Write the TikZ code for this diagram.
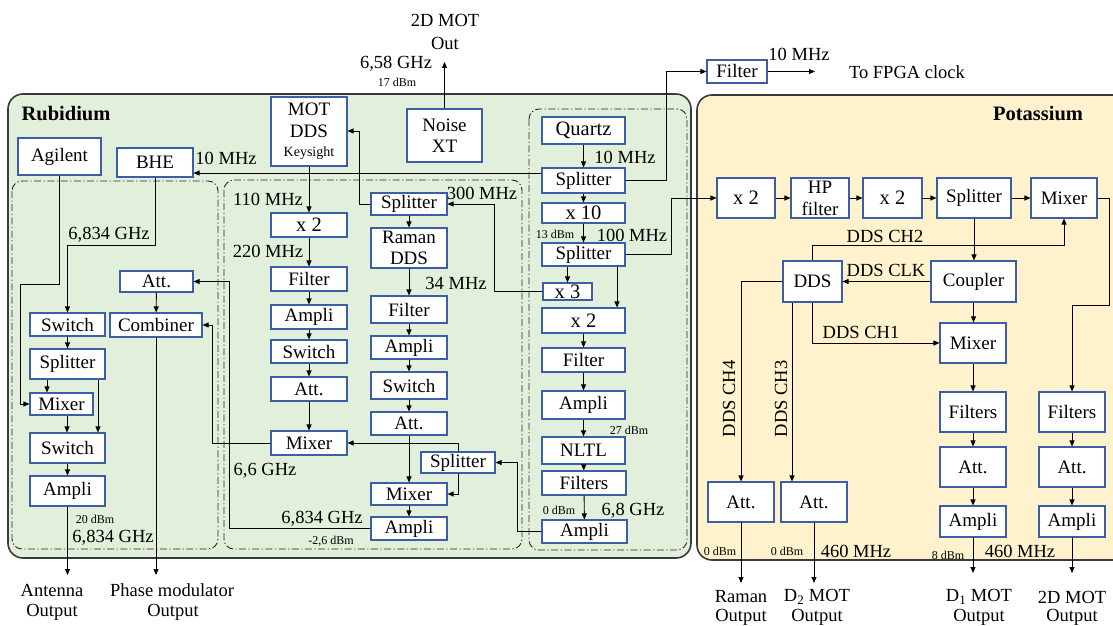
\documentclass[tikz,border=0pt]{standalone}
\usepackage{fontspec}
\setmainfont{Liberation Serif}
\usetikzlibrary{arrows.meta}
\definecolor{rbfill}{HTML}{E2EFDA}
\definecolor{kfill}{HTML}{FFF2CC}
\definecolor{boxblue}{HTML}{3B5EA6}
\definecolor{panelc}{HTML}{3A3A3A}
\newcommand\bx[6][]{\node[box,#1,minimum width={#4pt-#2pt},minimum height={#5pt-#3pt}] (#6) at ({(#2+#4)/2},{(#3+#5)/2})}
\begin{document}
\begin{tikzpicture}[x=1pt,y=-1pt,
 box/.style={draw=boxblue,line width=1.1pt,fill=white,inner sep=0pt,align=center,font=\fontsize{19}{21}\selectfont},
 big/.style={font=\fontsize{20.5}{22}\selectfont},
 arr/.style={draw,line width=0.9pt,-{Triangle[length=6pt,width=5pt]}},
 lbl/.style={inner sep=0pt,font=\fontsize{18.5}{21}\selectfont,align=center},
 sml/.style={inner sep=0pt,font=\fontsize{12}{13}\selectfont},
 ttl/.style={inner sep=0pt,font=\fontsize{20.5}{22}\selectfont\bfseries},
 region/.style={draw=black!85,line width=0.9pt,rounded corners=10pt,dash pattern=on 7pt off 2.5pt on 1.2pt off 2.5pt},
 panel/.style={draw=panelc,line width=1.6pt,rounded corners=15pt}]
\useasboundingbox (0,0) rectangle (1113,626);
% panels
\path[panel,fill=rbfill] (8,94) rectangle (691,558);
\path[panel,fill=kfill] (697,95) rectangle (1130,560);
\path[region] (12,181) rectangle (218,549);
\path[region] (224,180) rectangle (522,549);
\path[region] (529,109) rectangle (687,550);
\node[ttl] (rbt) at (66,114) {Rubidium};
\node[ttl] (kt) at (1038,114) {Potassium};
% left region
\bx{18}{138}{101}{175}{agl}{Agilent};
\bx{117}{148}{193}{177}{bhe}{BHE};
\bx{120}{271}{193}{292}{att1}{Att.};
\bx{110}{313}{202}{337}{comb}{Combiner};
\bx{30}{313}{105}{336}{sw1}{Switch};
\bx{30}{349}{105}{379}{spl1}{Splitter};
\bx{30}{393}{93}{415}{mix1}{Mixer};
\bx{30}{433}{105}{463}{sw2}{Switch};
\bx{30}{476}{105}{506}{amp1}{Ampli};
% middle
\bx[font=\fontsize{19}{21.5}\selectfont]{271}{97}{347}{166}{motdds}{MOT\\DDS\\[-2pt]{\fontsize{14}{15}\selectfont Keysight}};
\bx{407}{109}{482}{162}{noise}{Noise\\XT};
\bx[big]{271}{213}{347}{237}{x2a}{x 2};
\bx{271}{267}{347}{291}{filta}{Filter};
\bx{271}{305}{347}{329}{ampa}{Ampli};
\bx{271}{340}{347}{363}{swa}{Switch};
\bx{271}{377}{347}{401}{atta}{Att.};
\bx{271}{431}{347}{455}{mixa}{Mixer};
\bx{371}{193}{447}{215}{splb}{Splitter};
\bx{371}{228}{447}{268}{raman}{Raman\\DDS};
\bx{371}{296}{447}{323}{filtb}{Filter};
\bx{371}{336}{447}{359}{ampb}{Ampli};
\bx{371}{372}{447}{399}{swb}{Switch};
\bx{371}{412}{447}{435}{attb}{Att.};
\bx{421}{452}{495}{473}{splc}{Splitter};
\bx{371}{483}{447}{505}{mixb}{Mixer};
\bx{371}{517}{447}{540}{ampc}{Ampli};
% quartz column
\bx[big]{542}{117}{625}{144}{qz}{Quartz};
\bx{542}{168}{625}{193}{qs1}{Splitter};
\bx[big]{542}{203}{625}{223}{x10}{x 10};
\bx{542}{243}{625}{266}{qs2}{Splitter};
\bx[big]{543}{283}{592}{300}{x3}{x 3};
\bx[big]{542}{308}{625}{333}{x2q}{x 2};
\bx{542}{348}{625}{372}{filtq}{Filter};
\bx{542}{391}{625}{419}{ampq}{Ampli};
\bx{542}{437}{625}{464}{nltl}{NLTL};
\bx{542}{471}{626}{495}{filtsq}{Filters};
\bx{542}{520}{627}{543}{ampq2}{Ampli};
\bx{707}{60}{767}{83}{filtfp}{Filter};
% potassium
\bx[big]{717}{178}{775}{218}{kx2a}{x 2};
\bx[font=\fontsize{19}{22}\selectfont]{791}{178}{849}{218}{hp}{HP\\filter};
\bx[big]{863}{178}{922}{218}{kx2b}{x 2};
\bx{937}{178}{1011}{218}{ksp}{Splitter};
\bx{1031}{178}{1097}{218}{kmix}{Mixer};
\bx{783}{261}{842}{302}{dds}{DDS};
\bx{931}{261}{1016}{302}{coup}{Coupler};
\bx{940}{323}{1006}{363}{kmix2}{Mixer};
\bx{940}{392}{1006}{432}{kfil1}{Filters};
\bx{940}{447}{1006}{487}{katt1}{Att.};
\bx{940}{506}{1006}{537}{kamp1}{Ampli};
\bx{1039}{392}{1105}{432}{kfil2}{Filters};
\bx{1039}{447}{1105}{487}{katt2}{Att.};
\bx{1039}{506}{1105}{537}{kamp2}{Ampli};
\bx{708}{482}{774}{522}{attr}{Att.};
\bx{781}{482}{847}{522}{attd2}{Att.};
% output coordinates
\coordinate (o2d) at (444.5,62);
\coordinate (oant) at (67.5,575);
\coordinate (ophm) at (156,575);
\coordinate (ofpga) at (815,71.5);
\coordinate (oram) at (741,583);
\coordinate (od2) at (814,583);
\coordinate (od1) at (973,573);
\coordinate (o2dk) at (1072,573);
% connectors: top
\draw[arr] (noise.north) -- (o2d);
\draw[arr] (qs1.west |- 0,173) -- (bhe.east |- 0,173);
\draw[arr] (splb.west) -- (359,204) -- (359,131) -- (motdds.east |- 0,131);
% middle chains
\draw[arr] (motdds.south) -- (x2a.north);
\draw[arr] (x2a) -- (filta);
\draw[arr] (filta) -- (ampa);
\draw[arr] (ampa) -- (swa);
\draw[arr] (swa) -- (atta);
\draw[arr] (atta) -- (mixa);
\draw[arr] (splb) -- (raman);
\draw[arr] (raman) -- (filtb);
\draw[arr] (filtb) -- (ampb);
\draw[arr] (ampb) -- (swb);
\draw[arr] (swb) -- (attb);
\draw[arr] (attb) -- (mixb);
\draw[arr] (mixb) -- (ampc);
\draw[arr] (splc.north) |- (mixa.east);
\draw[arr] (splc.south) |- (mixb.east);
\draw[arr] (ampq2.west) -- (517,531.5) -- (517,462.5) -- (splc.east);
\draw[arr] (ampc.west) -- (229,528.5) -- (229,281.5) -- (att1.east);
\draw[arr] (mixa.west) -- (212,443) -- (212,325) -- (comb.east);
% left region
\draw[arr] (att1) -- (comb);
\draw[arr] (comb.south) -- (ophm);
\draw[arr] (bhe.south) |- (67.5,245) -- (sw1.north);
\draw[arr] (agl.south) -- (59.5,284) -- (20,284) -- (20,404) -- (mix1.west);
\draw[arr] (sw1) -- (spl1);
\draw[arr] (spl1.south -| 47,0) -- (mix1.north -| 47,0);
\draw[arr] (spl1.south -| 98,0) -- (sw2.north -| 98,0);
\draw[arr] (mix1.south -| 67,0) -- (sw2.north -| 67,0);
\draw[arr] (sw2) -- (amp1);
\draw[arr] (amp1.south) -- (oant);
% quartz column
\draw[arr] (qz) -- (qs1);
\draw[arr] (qs1) -- (x10);
\draw[arr] (x10) -- (qs2);
\draw[arr] (qs2.south -| x3.north) -- (x3.north);
\draw[arr] (qs2.south -| 617,0) -- (x2q.north -| 617,0);
\draw[arr] (x2q) -- (filtq);
\draw[arr] (filtq) -- (ampq);
\draw[arr] (ampq) -- (nltl);
\draw[arr] (nltl) -- (filtsq);
\draw[arr] (filtsq) -- (ampq2);
\draw[arr] (x3.west) -- (494,291.5) -- (494,204) -- (splb.east);
\draw[arr] (qs1.east) -- (666,180.5) -- (666,71.5) -- (filtfp.west);
\draw[arr] (filtfp.east) -- (ofpga);
\draw[arr] (qs2.east) -- (671,254.5) -- (671,198) -- (kx2a.west);
% potassium
\draw[arr] (kx2a) -- (hp);
\draw[arr] (hp) -- (kx2b);
\draw[arr] (kx2b) -- (ksp);
\draw[arr] (ksp) -- (kmix);
\draw[arr] (kmix.east) -- (1109,198) -- (1109,305) -- (1072,305) -- (kfil2.north);
\draw[arr] (ksp.south) -- (coup.north -| ksp.south);
\draw[arr] (coup.west) -- (dds.east);
\draw[arr] (dds.north) -- (812.5,245) -- (1064,245) -- (kmix.south -| 1064,0);
\draw[arr] (dds.south) -- (812.5,343) -- (kmix2.west);
\draw[arr] (dds.south -| 792,0) -- (attd2.north -| 792,0);
\draw[arr] (dds.west) -- (741,281.5) -- (attr.north);
\draw[arr] (attr.south) -- (oram);
\draw[arr] (attd2.south) -- (od2);
\draw[arr] (coup.south) -- (kmix2.north -| coup.south);
\draw[arr] (kmix2) -- (kfil1);
\draw[arr] (kfil1) -- (katt1);
\draw[arr] (katt1) -- (kamp1);
\draw[arr] (kamp1.south) -- (od1);
\draw[arr] (kfil2) -- (katt2);
\draw[arr] (katt2) -- (kamp2);
\draw[arr] (kamp2.south) -- (o2dk);
% labels
\node[lbl] (l2dmot) at (445,20) {2D MOT};
\node[lbl] (lout) at (445,43) {Out};
\node[lbl] (l658) at (396,64) {6,58 GHz};
\node[sml] (l17) at (397,82) {17 dBm};
\node[lbl] (l10a) at (226,158) {10 MHz};
\node[lbl] (l110) at (268,199) {110 MHz};
\node[lbl] (l220) at (268,251) {220 MHz};
\node[lbl] (l300) at (482,193) {300 MHz};
\node[lbl] (l34) at (456,283) {34 MHz};
\node[lbl] (l66) at (265,471) {6,6 GHz};
\node[lbl] (l6834m) at (322,519) {6,834 GHz};
\node[sml] (l26) at (331,541) {-2,6 dBm};
\node[lbl] (l6834a) at (109,235) {6,834 GHz};
\node[sml] (l20) at (95,519) {20 dBm};
\node[lbl] (l6834b) at (113,538) {6,834 GHz};
\node[lbl] (lant) at (52,590) {Antenna};
\node[lbl] (lanto) at (52,612) {Output};
\node[lbl] (lphm) at (172,590) {Phase modulator};
\node[lbl] (lphmo) at (173,612) {Output};
\node[lbl] (l10b) at (625,157) {10 MHz};
\node[sml] (l13) at (555,234) {13 dBm};
\node[lbl] (l100) at (632,235) {100 MHz};
\node[sml] (l27) at (629,430) {27 dBm};
\node[sml] (l0a) at (559,510) {0 dBm};
\node[lbl] (l68) at (633,511) {6,8 GHz};
\node[lbl] (l10c) at (799,54) {10 MHz};
\node[lbl] (lfpga) at (907,72) {To FPGA clock};
\node[lbl] (lch2) at (885,236) {DDS CH2};
\node[lbl] (lclk) at (886,270) {DDS CLK};
\node[lbl] (lch1) at (861,332) {DDS CH1};
\node[lbl,rotate=90] (lch4) at (729,399) {DDS CH4};
\node[lbl,rotate=90] (lch3) at (781,399) {DDS CH3};
\node[sml] (l0b) at (720,551) {0 dBm};
\node[sml] (l0c) at (787,551) {0 dBm};
\node[lbl] (l460a) at (856,551) {460 MHz};
\node[sml] (l8) at (948,555) {8 dBm};
\node[lbl] (l460b) at (1020,551) {460 MHz};
\node[lbl] (lram) at (741,597) {Raman};
\node[lbl] (lramo) at (741,617) {Output};
\node[lbl] (ld2) at (817,597) {D\textsubscript{2} MOT};
\node[lbl] (ld2o) at (817,617) {Output};
\node[lbl] (ld1) at (979,597) {D\textsubscript{1} MOT};
\node[lbl] (ld1o) at (979,617) {Output};
\node[lbl] (l2dk) at (1072,597) {2D MOT};
\node[lbl] (l2dko) at (1072,617) {Output};
\end{tikzpicture}
\end{document}
